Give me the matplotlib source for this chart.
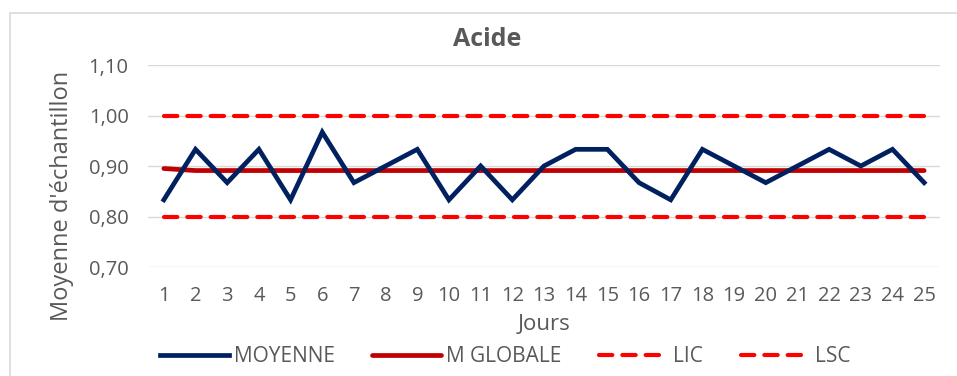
import matplotlib.pyplot as plt
from matplotlib.patches import Rectangle

# jours et moyennes d'echantillon
jours = list(range(1, 26))
moyenne = [0.833, 0.933, 0.867, 0.933, 0.833, 0.967, 0.867, 0.900, 0.933, 0.833,
           0.900, 0.833, 0.900, 0.933, 0.933, 0.867, 0.833, 0.933, 0.900, 0.867,
           0.900, 0.933, 0.900, 0.933, 0.867]
m_globale = [0.895] + [0.891] * 24
lic = [0.80] * 25
lsc = [1.00] * 25
yticks = [0.70, 0.80, 0.90, 1.00, 1.10]

plt.rcParams['font.family'] = ['Open Sans', 'DejaVu Sans']
gris = '#595959'

fig = plt.figure(figsize=(9.57, 3.76), dpi=100)
ax = fig.add_axes([148/957, 1 - 267/376, 792/957, 202/376])

# cadre du graphique
fig.patches.append(Rectangle((10/957, -0.1), 1.2, 1 + 0.1 - 13/376,
                             transform=fig.transFigure, fill=False,
                             edgecolor='#D9D9D9', lw=1.2))

ax.plot(jours, moyenne, color='#002060', lw=3.4, solid_joinstyle='miter',
        label='MOYENNE', zorder=4)
ax.plot(jours, m_globale, color='#C00000', lw=3.4, solid_capstyle='round',
        label='M GLOBALE', zorder=3)
ax.plot(jours, lic, color='#FF0000', lw=3, dashes=(3.2, 2.4),
        dash_capstyle='round', label='LIC', zorder=3)
ax.plot(jours, lsc, color='#FF0000', lw=3, dashes=(3.2, 2.4),
        dash_capstyle='round', label='LSC', zorder=3)

ax.set_xlim(0.5, 25.5)
ax.set_ylim(0.70, 1.10)
ax.set_yticks(yticks)
ax.set_yticklabels([f'{v:.2f}'.replace('.', ',') for v in yticks])
ax.set_xticks(jours)
ax.grid(axis='y', color='#D9D9D9', lw=1)
ax.set_axisbelow(True)
for s in ax.spines.values():
    s.set_visible(False)
ax.tick_params(length=0, labelsize=14.5, colors=gris)
ax.tick_params(axis='x', pad=14)
ax.tick_params(axis='y', pad=14)

fig.text(0.509, 1 - 40/376, 'Acide', ha='center', va='center',
         fontsize=18, fontweight='bold', color=gris)
fig.text(62/957, 1 - 196/376, "Moyenne d'échantillon", rotation=90,
         ha='center', va='center', fontsize=17, color=gris)
fig.text(544/957, 1 - 325/376, 'Jours', ha='center', va='center',
         fontsize=16, color=gris)

leg = fig.legend(loc='center', bbox_to_anchor=(505/957, 1 - 357/376), ncol=4,
                 frameon=False, fontsize=15, handlelength=3.3,
                 handletextpad=0.25, columnspacing=1.8)
for t in leg.get_texts():
    t.set_color(gris)

fig.savefig('out.png', dpi=100)
